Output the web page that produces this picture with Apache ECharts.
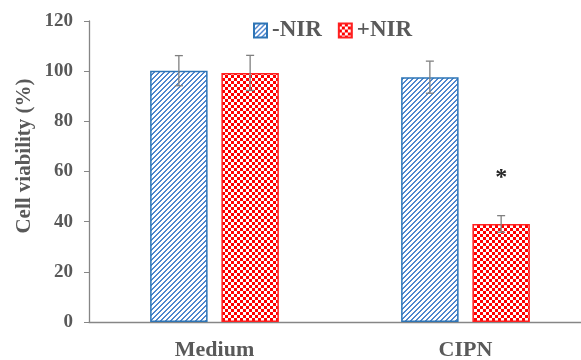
<!DOCTYPE html>
<html>
<head>
<meta charset="utf-8">
<script src="https://cdn.jsdelivr.net/npm/echarts@6/dist/echarts.min.js"></script>
<style>html,body{margin:0;padding:0;background:#fff}#c{width:581px;height:360px}</style>
</head>
<body>
<div id="c"></div>
<script>
// ---- data ----
const categories = ['Medium', 'CIPN'];
const seriesNames = ['-NIR', '+NIR'];
const minusNIR = [100.2, 97.6];
const plusNIR = [99.3, 39.1];
const minusNIRErr = [6.0, 6.4];
const plusNIRErr = [7.0, 3.3];
const significance = [['', ''], ['', '*']];
const yTicks = [0, 20, 40, 60, 80, 100, 120];

// ---- patterns ----
function stripeTile() {
  const n = 5, c = document.createElement('canvas');
  c.width = n; c.height = n;
  const ctx = c.getContext('2d');
  ctx.fillStyle = '#ffffff'; ctx.fillRect(0, 0, n, n);
  ctx.fillStyle = '#4f86cf';
  for (let x = 0; x < n; x++) for (let y = 0; y < n; y++) {
    if ((x + y) % n < 2) ctx.fillRect(x, y, 1, 1);
  }
  return c;
}
function checkTile() {
  const s = 3, c = document.createElement('canvas');
  c.width = 2 * s; c.height = 2 * s;
  const ctx = c.getContext('2d');
  ctx.fillStyle = '#ffffff'; ctx.fillRect(0, 0, 2 * s, 2 * s);
  ctx.fillStyle = '#ff0000';
  ctx.fillRect(0, 0, s, s); ctx.fillRect(s, s, s, s);
  return c;
}

const FONT = '"Liberation Serif", "Times New Roman", serif';
const GREY = '#595959';
const BAR_W = 0.229, BAR_GAP = 0.24;

const chart = echarts.init(document.getElementById('c'), null, {renderer: 'canvas'});

function errRender(values, errs, seriesIdx) {
  return function (params, api) {
    const i = api.value(0);
    const band = api.size([1, 0])[0];
    const bw = band * BAR_W;
    const off = bw * (1 + BAR_GAP) / 2 * (seriesIdx === 0 ? -1 : 1);
    const top = api.coord([i, values[i] + errs[i]]);
    const bot = api.coord([i, values[i] - errs[i]]);
    const x = top[0] + off;
    const cap = 4;
    const st = {stroke: '#808080', lineWidth: 1.3};
    const children = [
      {type: 'line', shape: {x1: x, y1: top[1], x2: x, y2: bot[1]}, style: st},
      {type: 'line', shape: {x1: x - cap, y1: top[1], x2: x + cap, y2: top[1]}, style: st},
      {type: 'line', shape: {x1: x - cap, y1: bot[1], x2: x + cap, y2: bot[1]}, style: st}
    ];
    const sig = significance[i][seriesIdx];
    if (sig) {
      children.push({type: 'text', style: {x: x, y: top[1] - 38, text: sig, fill: '#262626',
        font: 'bold 24px ' + FONT, textAlign: 'center', textVerticalAlign: 'middle'}});
    }
    return {type: 'group', children: children};
  };
}

chart.setOption({
  animation: false,
  backgroundColor: '#ffffff',
  grid: {left: 89, top: 21, right: -10, height: 301, containLabel: false, outerBoundsMode: 'none'},
  legend: {
    left: 253, top: 19, padding: 0,
    itemWidth: 13, itemHeight: 14, itemGap: 16,
    textStyle: {fontFamily: FONT, fontWeight: 'bold', fontSize: 23, color: GREY},
    data: seriesNames.map(n => ({name: n, icon: 'rect'}))
  },
  xAxis: {
    type: 'category', data: categories,
    axisLine: {lineStyle: {color: '#868686', width: 1.3}},
    axisTick: {show: false},
    axisLabel: {fontFamily: FONT, fontWeight: 'bold', fontSize: 22, color: GREY, margin: 17}
  },
  yAxis: {
    type: 'value', min: 0, max: 120, interval: 20,
    splitLine: {show: false},
    axisLine: {show: true, lineStyle: {color: '#868686', width: 1.3}},
    axisTick: {show: true, inside: false, length: 5, lineStyle: {color: '#868686'}},
    axisLabel: {fontFamily: FONT, fontWeight: 'bold', fontSize: 19, color: GREY, margin: 16,
      formatter: v => yTicks.includes(v) ? String(v) : ''}
  },
  graphic: [{
    type: 'text', rotation: Math.PI / 2,
    x: 25, y: 156,
    style: {text: 'Cell viability (%)', font: 'bold 21px ' + FONT, fill: GREY,
      textAlign: 'center', textVerticalAlign: 'middle'}
  }],
  series: [
    {name: seriesNames[0], type: 'bar', data: minusNIR, barWidth: (BAR_W * 100) + '%', barGap: (BAR_GAP * 100) + '%',
      itemStyle: {color: {image: stripeTile(), repeat: 'repeat'}, borderColor: '#2e75b6', borderWidth: 1.5}},
    {name: seriesNames[1], type: 'bar', data: plusNIR, barWidth: (BAR_W * 100) + '%', barGap: (BAR_GAP * 100) + '%',
      itemStyle: {color: {image: checkTile(), repeat: 'repeat'}, borderColor: '#ff2020', borderWidth: 1.5}},
    {type: 'custom', name: 'err0', renderItem: errRender(minusNIR, minusNIRErr, 0),
      data: categories.map((c, i) => [i]), z: 10, silent: true},
    {type: 'custom', name: 'err1', renderItem: errRender(plusNIR, plusNIRErr, 1),
      data: categories.map((c, i) => [i]), z: 10, silent: true}
  ]
});
</script>
</body>
</html>
